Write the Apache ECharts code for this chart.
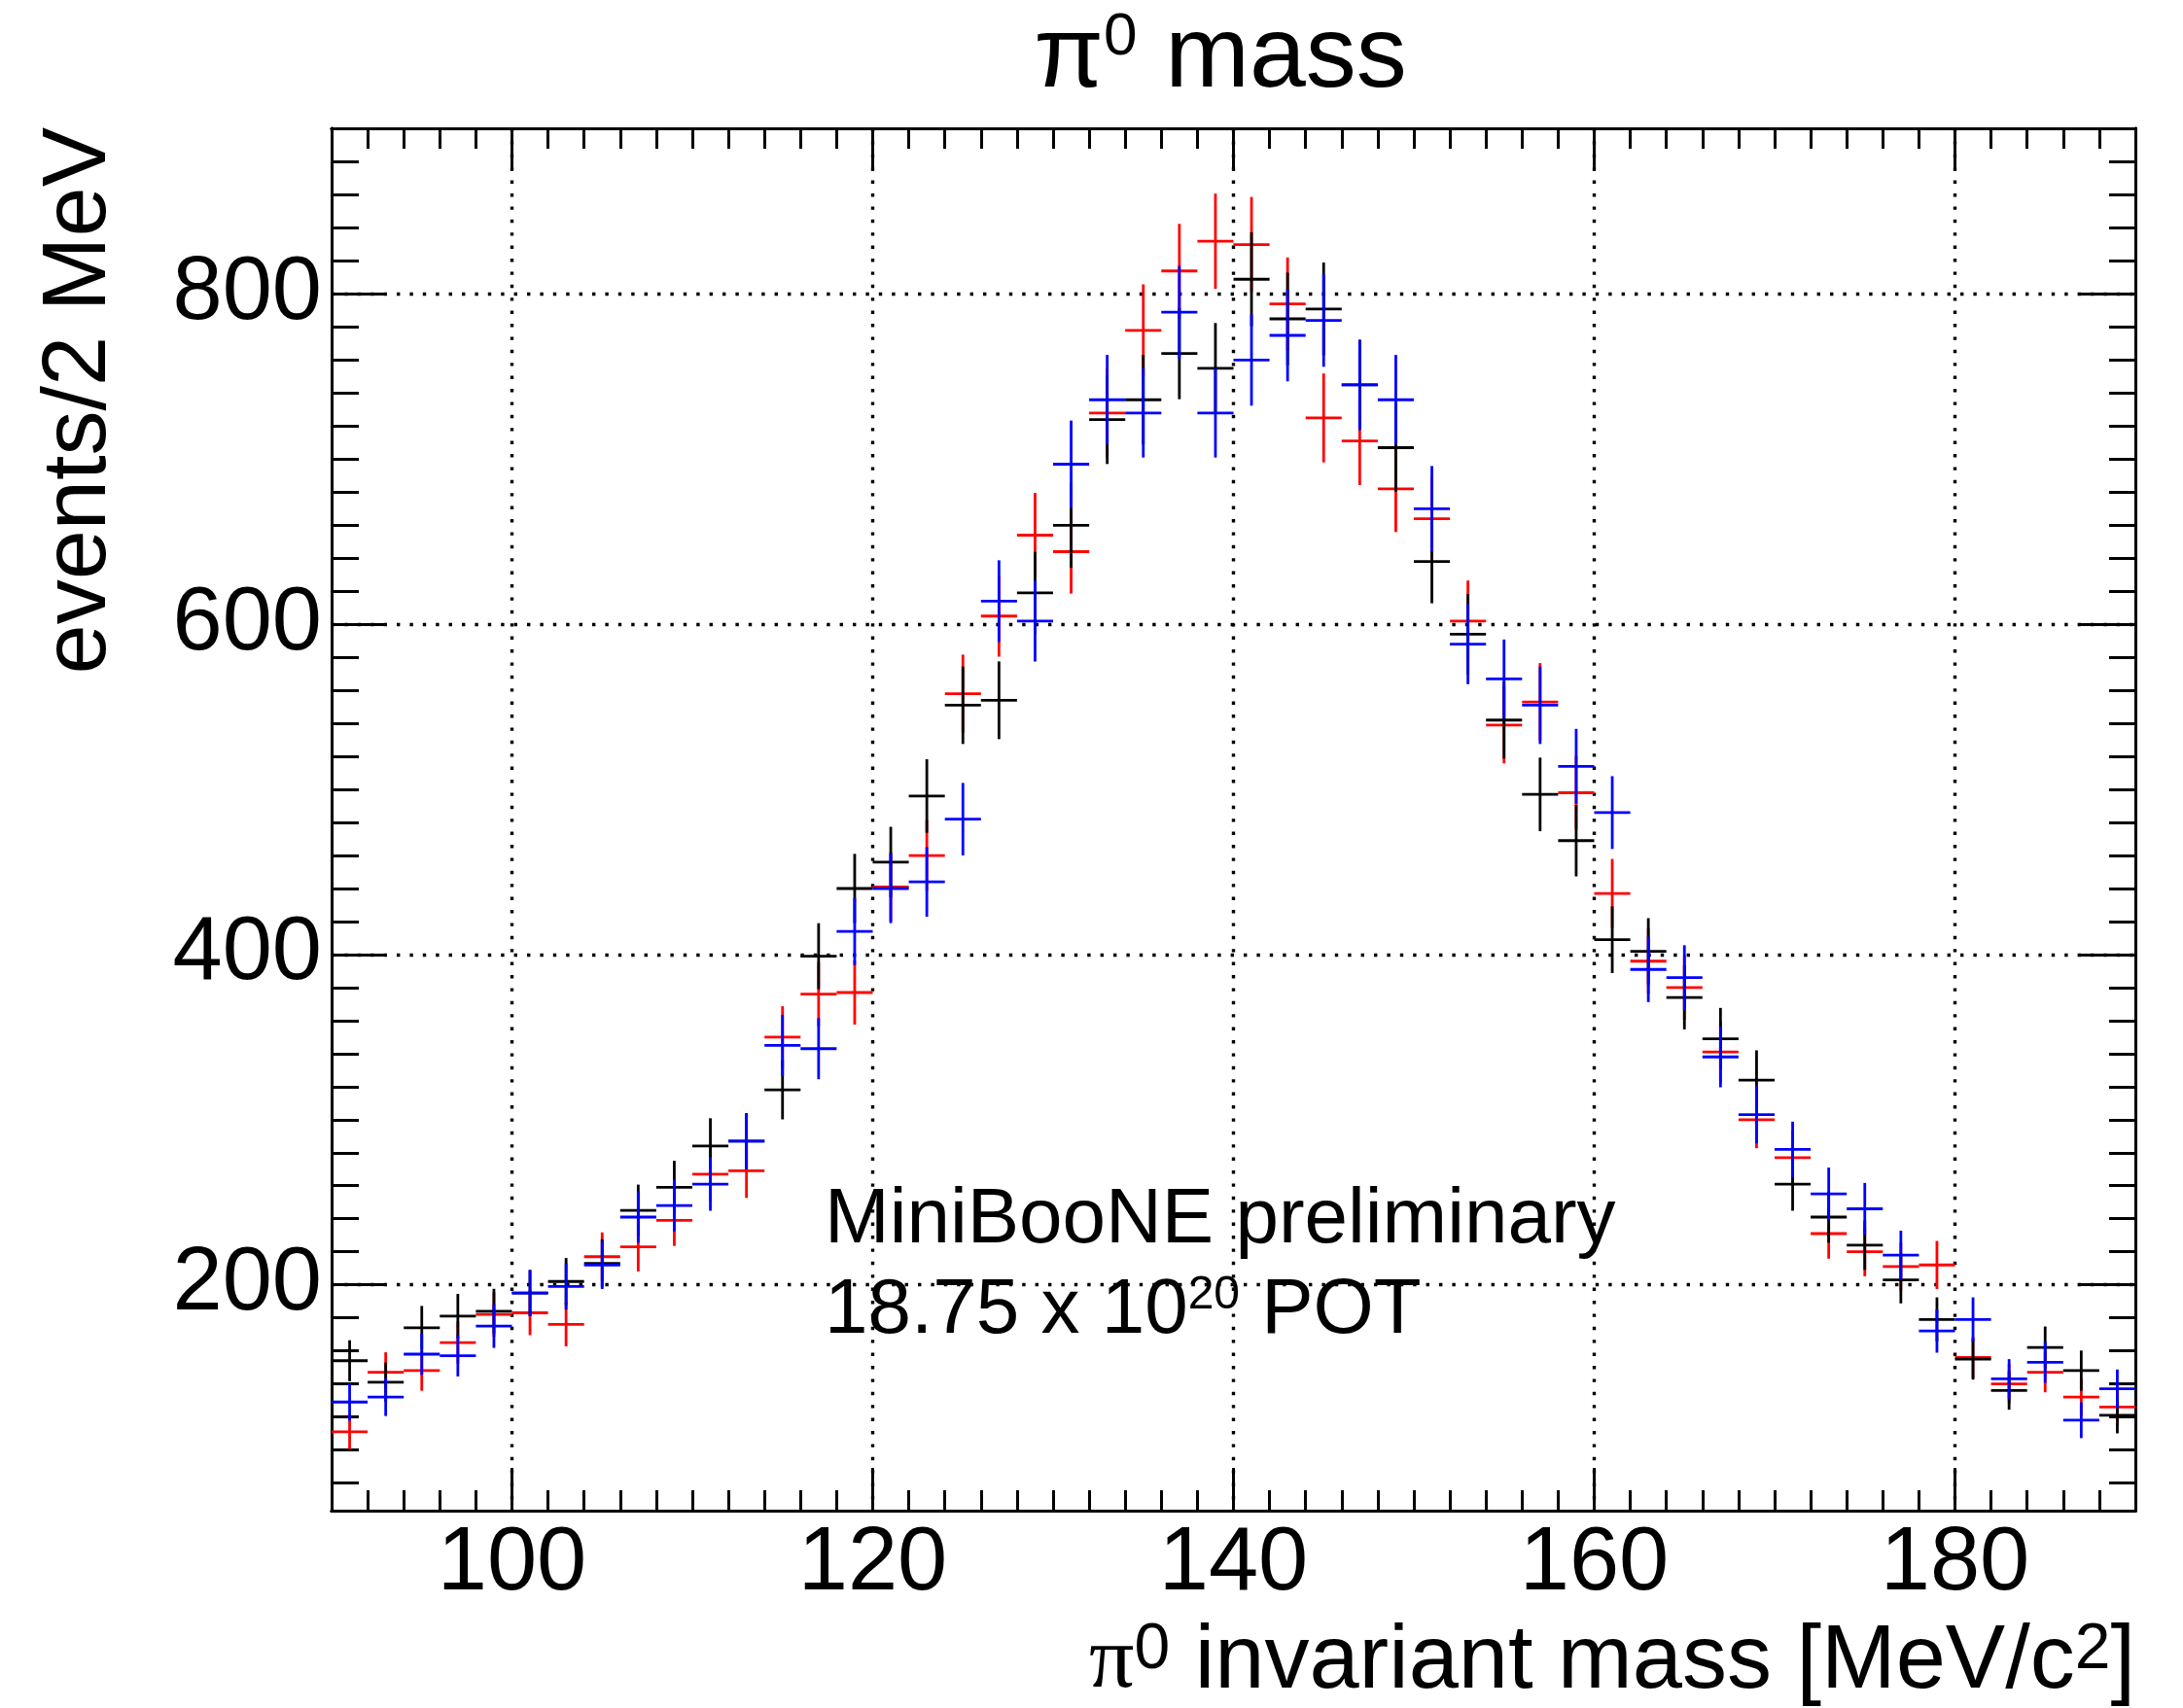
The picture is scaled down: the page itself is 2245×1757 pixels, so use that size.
<!DOCTYPE html>
<html><head><meta charset="utf-8">
<script src="https://cdn.jsdelivr.net/npm/echarts@6/dist/echarts.min.js"></script>
<style>html,body{margin:0;padding:0;background:#fff}#c{width:2245px;height:1757px}</style>
</head><body><div id="c"></div>
<script>
// ---- data ----
const binCenters = [91,93,95,97,99,101,103,105,107,109,111,113,115,117,119,121,123,125,127,129,131,133,135,137,139,141,143,145,147,149,151,153,155,157,159,161,163,165,167,169,171,173,175,177,179,181,183,185,187,189];
const blackCounts = [154,141,174,181,184,195,202,213,245,259,284,287,318,399,440,456,496,551,554,619,660,724,736,764,755,809,785,791,745,707,638,594,542,497,469,409,402,374,349,324,261,241,224,203,179,155,136,162,148,121];
const redCounts   = [111,147,148,165,182,183,176,217,223,239,267,269,350,376,377,441,460,558,605,654,644,728,778,814,832,830,794,725,711,682,664,602,539,553,498,437,396,380,341,300,277,231,220,211,212,156,140,147,132,126];
const blueCounts  = [129,132,158,157,175,195,199,212,241,248,261,287,345,343,414,440,444,482,614,602,697,736,728,789,728,760,775,784,745,736,670,588,567,551,514,486,391,386,338,303,282,255,246,218,172,179,143,153,118,137];
const xMajorTicks = [100,120,140,160,180];
const yMajorTicks = [200,400,600,800];
const xMinorTicks = [92,94,96,98,102,104,106,108,110,112,114,116,118,122,124,126,128,130,132,134,136,138,142,144,146,148,150,152,154,156,158,162,164,166,168,170,172,174,176,178,182,184,186,188];
const yMinorTicks = [80,100,120,140,160,180,220,240,260,280,300,320,340,360,380,420,440,460,480,500,520,540,560,580,620,640,660,680,700,720,740,760,780,820,840,860,880];
const xRange = [90, 190];
const yRange = [63.2, 900.4];
const binHalfWidth = 1;

const FONT = '"Liberation Sans", Arial, Helvetica, sans-serif';
const chart = echarts.init(document.getElementById('c'), null, {renderer: 'canvas'});

function makeAxis(kind, pos, ticks, len, labels, split) {
  const rng = kind === 'x' ? xRange : yRange;
  return {
    type: 'value', position: pos, min: rng[0], max: rng[1],
    axisLine: {show: true, onZero: false, lineStyle: {color: '#000', width: 3}},
    axisTick: {show: true, inside: true, length: len, customValues: ticks, lineStyle: {color: '#000', width: 3}},
    axisLabel: labels ? {show: true, customValues: ticks, margin: 10, fontSize: 92, color: '#000', fontFamily: FONT} : {show: false},
    splitLine: split ? {show: true, lineStyle: {color: '#000', width: 3.4, type: [3.4, 10]}} : {show: false},
    minorTick: {show: false}, minorSplitLine: {show: false}
  };
}

function errSeries(name, counts, color) {
  return {
    name: name, type: 'custom', xAxisIndex: 0, yAxisIndex: 0, clip: true, animation: false,
    data: binCenters.map((c, i) => [c, counts[i], Math.sqrt(counts[i])]),
    renderItem: function (params, api) {
      const x = api.value(0), v = api.value(1), e = api.value(2);
      const l = api.coord([x - binHalfWidth, v]), r = api.coord([x + binHalfWidth, v]);
      const t = api.coord([x, v + e]), b = api.coord([x, v - e]);
      const st = {stroke: color, lineWidth: 2.8, lineCap: 'butt'};
      return {type: 'group', children: [
        {type: 'line', shape: {x1: l[0], y1: l[1], x2: r[0], y2: r[1]}, style: st},
        {type: 'line', shape: {x1: t[0], y1: t[1], x2: b[0], y2: b[1]}, style: st}
      ]};
    }
  };
}

function supToken(S, s, raise) {
  return {fontSize: s, fontFamily: FONT, fill: '#000', verticalAlign: 'top', lineHeight: Math.max(2 * (0.8465 * S - 0.3465 * s - raise), 1)};
}

const option = {
  backgroundColor: '#fff',
  animation: false,
  grid: {left: 341, right: 49, top: 132, bottom: 203, containLabel: false},
  xAxis: [
    makeAxis('x', 'bottom', xMajorTicks, 44, true, true),
    makeAxis('x', 'bottom', xMinorTicks, 21, false, false),
    makeAxis('x', 'top', xMajorTicks, 44, false, false),
    makeAxis('x', 'top', xMinorTicks, 21, false, false)
  ],
  yAxis: [
    makeAxis('y', 'left', yMajorTicks, 55, true, true),
    makeAxis('y', 'left', yMinorTicks, 28, false, false),
    makeAxis('y', 'right', yMajorTicks, 56, false, false),
    makeAxis('y', 'right', yMinorTicks, 27, false, false)
  ],
  series: [
    errSeries('red', redCounts, '#ff0000'),
    errSeries('black', blackCounts, '#000000'),
    errSeries('blue', blueCounts, '#0000ff')
  ],
  graphic: [
    { type: 'text', x: 1255, y: 60, silent: true,
      style: { text: '{m|π}{s|0}{m| mass}', align: 'center', textAlign: 'center', verticalAlign: 'middle', textVerticalAlign: 'middle',
        fill: '#000', fontFamily: FONT, fontSize: 104,
        rich: { m: {fontSize: 104, fontFamily: FONT, fill: '#000', verticalAlign: 'bottom', lineHeight: 104}, s: supToken(104, 62, 46) } } },
    { type: 'text', x: 83, y: 131, rotation: Math.PI / 2, silent: true,
      style: { text: 'events/2 MeV', align: 'right', textAlign: 'right', verticalAlign: 'middle', textVerticalAlign: 'middle',
        fill: '#000', fontFamily: FONT, fontSize: 92 } },
    { type: 'text', x: 2196, y: 1711, silent: true,
      style: { text: '{p|π}{s|0}{m| invariant mass [MeV/c}{s|2}{m|]}', align: 'right', textAlign: 'right', verticalAlign: 'middle', textVerticalAlign: 'middle',
        fill: '#000', fontFamily: FONT, fontSize: 92,
        rich: { m: {fontSize: 92, fontFamily: FONT, fill: '#000', verticalAlign: 'bottom', lineHeight: 92},
                p: {fontSize: 92, fontFamily: '"Liberation Serif", serif', fill: '#000', verticalAlign: 'bottom', lineHeight: 92},
                s: supToken(92, 66, 50) } } },
    { type: 'text', x: 848, y: 1256, silent: true,
      style: { text: 'MiniBooNE preliminary', align: 'left', textAlign: 'left', verticalAlign: 'middle', textVerticalAlign: 'middle',
        fill: '#000', fontFamily: FONT, fontSize: 80 } },
    { type: 'text', x: 848, y: 1349, silent: true,
      style: { text: '{m|18.75 x 10}{s|20}{m| POT}', align: 'left', textAlign: 'left', verticalAlign: 'middle', textVerticalAlign: 'middle',
        fill: '#000', fontFamily: FONT, fontSize: 80,
        rich: { m: {fontSize: 80, fontFamily: FONT, fill: '#000', verticalAlign: 'bottom', lineHeight: 80}, s: supToken(80, 48, 28) } } }
  ]
};
chart.setOption(option);
</script></body></html>
